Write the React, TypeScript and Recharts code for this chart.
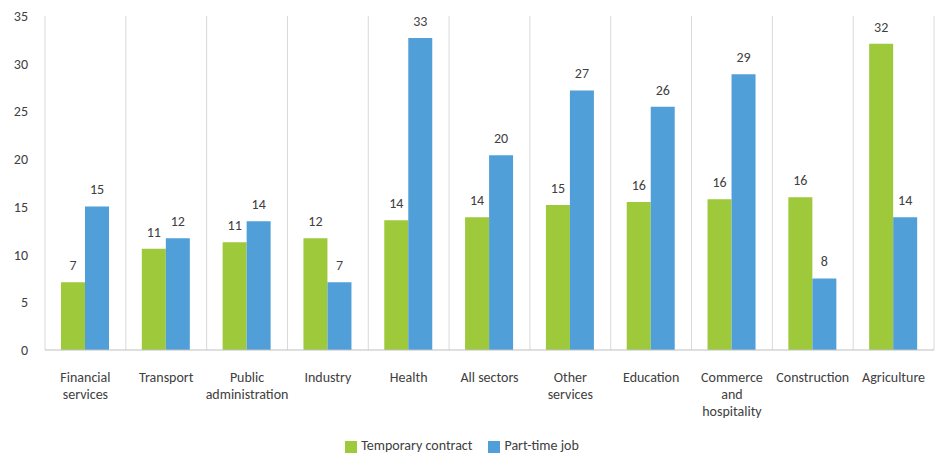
import React from "react";
import {
  BarChart,
  Bar,
  XAxis,
  YAxis,
  CartesianGrid,
  Legend,
  LabelList,
} from "recharts";

const sectors = [
  "Financial services",
  "Transport",
  "Public administration",
  "Industry",
  "Health",
  "All sectors",
  "Other services",
  "Education",
  "Commerce and hospitality",
  "Construction",
  "Agriculture",
];

// how the sector names wrap under the axis
const sectorLines = [
  ["Financial", "services"],
  ["Transport"],
  ["Public", "administration"],
  ["Industry"],
  ["Health"],
  ["All sectors"],
  ["Other", "services"],
  ["Education"],
  ["Commerce", "and", "hospitality"],
  ["Construction"],
  ["Agriculture"],
];

const temporaryContract = [7.1, 10.6, 11.3, 11.7, 13.6, 13.9, 15.2, 15.5, 15.8, 16.0, 32.1];
const partTimeJob = [15.05, 11.7, 13.5, 7.1, 32.7, 20.4, 27.2, 25.5, 28.9, 7.5, 13.9];

const yTicks = [0, 5, 10, 15, 20, 25, 30, 35];

const seriesOrder = ["Temporary contract", "Part-time job"];

const data = sectors.map((sector, i) => ({
  sector,
  temporary: temporaryContract[i],
  partTime: partTimeJob[i],
}));

const FONT = "Carlito, Lato, 'Noto Sans', sans-serif";
const TEXT = "#404040";

function SectorTick(props: any) {
  const { x, y, payload } = props;
  const lines = sectorLines[payload.index] || [payload.value];
  return (
    <text
      x={x}
      y={y}
      textAnchor="middle"
      fill={TEXT}
      fontSize={14}
      fontFamily={FONT}
    >
      {lines.map((line: string, i: number) => (
        <tspan key={i} x={x} y={y + 24 + i * 17}>
          {line}
        </tspan>
      ))}
    </text>
  );
}

// grid lines sit on category boundaries, not centres
const boundaries = ({ offset }: any) =>
  Array.from({ length: sectors.length + 1 }, (_, i) => offset.left + (i * offset.width) / sectors.length);

export default function App() {
  return (
    <div style={{ position: "absolute", left: 0, top: 0, width: 938, height: 456, background: "#fff" }}>
      <BarChart
        width={938}
        height={456}
        data={data}
        margin={{ top: 16, right: 4, left: 0, bottom: 0 }}
        barGap={0}
        barSize={24}
      >
        <CartesianGrid
          horizontal={false}
          vertical
          stroke="#d9d9d9"
          verticalCoordinatesGenerator={boundaries}
        />
        <XAxis
          dataKey="sector"
          interval={0}
          tickLine={false}
          axisLine={{ stroke: "#bfbfbf" }}
          tick={<SectorTick />}
          height={89}
        />
        <YAxis
          domain={[0, 35]}
          ticks={yTicks}
          width={45}
          axisLine={false}
          tickLine={false}
          tickMargin={11}
          tick={{ fill: TEXT, fontSize: 14, fontFamily: FONT }}
        />
        <Legend
          verticalAlign="bottom"
          align="center"
          iconType="square"
          iconSize={12}
          itemSorter={(item: any) => seriesOrder.indexOf(item.value)}
          wrapperStyle={{ fontFamily: FONT, fontSize: 14, bottom: 2 }}
          formatter={(value: string) => (
            <span style={{ color: TEXT, marginRight: value === seriesOrder[0] ? 6 : 0 }}>{value}</span>
          )}
        />
        <Bar dataKey="temporary" name="Temporary contract" fill="#9dc93a" isAnimationActive={false}>
          <LabelList
            dataKey="temporary"
            position="top"
            offset={12}
            formatter={(v: any) => Math.round(Number(v))}
            style={{ fill: TEXT, fontSize: 14, fontFamily: FONT }}
          />
        </Bar>
        <Bar dataKey="partTime" name="Part-time job" fill="#519fd8" isAnimationActive={false}>
          <LabelList
            dataKey="partTime"
            position="top"
            offset={12}
            formatter={(v: any) => Math.round(Number(v))}
            style={{ fill: TEXT, fontSize: 14, fontFamily: FONT }}
          />
        </Bar>
      </BarChart>
    </div>
  );
}
